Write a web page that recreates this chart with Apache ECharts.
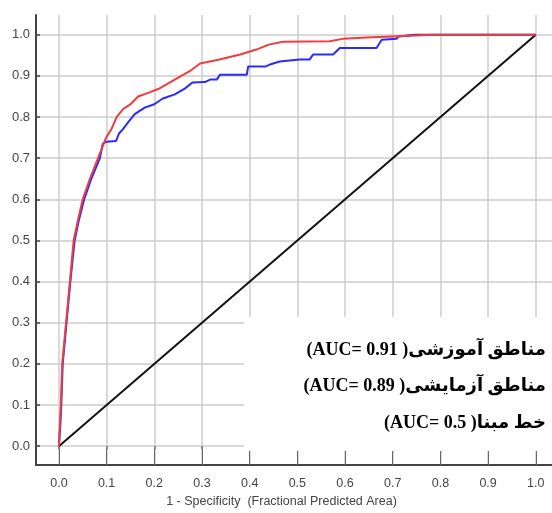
<!DOCTYPE html>
<html><head><meta charset="utf-8">
<script src="https://cdn.jsdelivr.net/npm/echarts@6/dist/echarts.min.js"></script>
<style>html,body{margin:0;padding:0;background:#fff}#c{width:552px;height:513px}</style>
</head><body><div id="c"></div>
<script>
const tickValues = [0,0.1,0.2,0.3,0.4,0.5,0.6,0.7,0.8,0.9,1.0];
const trainingRoc = [[0,0],[0.002,0.05],[0.004,0.1],[0.007,0.2],[0.011,0.25],[0.015,0.3],[0.023,0.4],[0.031,0.5],[0.04,0.55],[0.05,0.6],[0.065,0.65],[0.082,0.7],[0.099,0.75],[0.11,0.77],[0.121,0.8],[0.135,0.82],[0.149,0.83],[0.166,0.85],[0.19,0.86],[0.212,0.87],[0.233,0.884],[0.254,0.898],[0.275,0.912],[0.296,0.93],[0.337,0.94],[0.38,0.952],[0.414,0.964],[0.44,0.976],[0.47,0.983],[0.568,0.984],[0.595,0.99],[0.656,0.994],[0.70,0.996],[0.785,1.0],[1,1]];
const testRoc = [[0,0],[0.003,0.05],[0.005,0.1],[0.008,0.2],[0.012,0.25],[0.016,0.3],[0.024,0.4],[0.033,0.5],[0.042,0.55],[0.053,0.6],[0.068,0.65],[0.086,0.7],[0.092,0.735],[0.1,0.74],[0.12,0.742],[0.126,0.76],[0.134,0.77],[0.145,0.787],[0.159,0.807],[0.18,0.823],[0.2,0.831],[0.218,0.845],[0.243,0.855],[0.264,0.869],[0.28,0.884],[0.306,0.885],[0.317,0.891],[0.331,0.891],[0.338,0.903],[0.394,0.903],[0.397,0.923],[0.434,0.923],[0.441,0.927],[0.463,0.935],[0.505,0.94],[0.526,0.94],[0.533,0.952],[0.575,0.952],[0.582,0.96],[0.589,0.968],[0.666,0.968],[0.677,0.988],[0.708,0.99],[0.712,0.996],[0.746,1.0],[1,1]];
const baseline = [[0,0],[1,1]];
const legendLines = ['(AUC= 0.91 )مناطق آموزشی','(AUC= 0.89 )مناطق آزمایشی','(AUC= 0.5 )خط مبنا'];
const xName = '1 - Specificity  (Fractional Predicted Area)';

const chart = echarts.init(document.getElementById('c'));
const axisCommon = {type:'value', min:-0.048, max:1.034};
const legendGraphics = legendLines.map((t,i)=>({
  type:'text', right:6, top:341 + i*36.5, z:60,
  style:{text:t, fill:'#000', font:'bold 18px "Liberation Serif", "DejaVu Sans"'}
}));
chart.setOption({
  animation:false,
  grid:{left:36,right:0,top:15,bottom:45},
  xAxis:[{
    ...axisCommon, position:'bottom',
    name:xName, nameLocation:'middle', nameGap:29,
    nameTextStyle:{fontFamily:'Liberation Sans',fontSize:12.5,color:'#444',padding:[0,25,0,0]},
    axisLine:{onZero:false,lineStyle:{color:'#444',width:2}},
    axisTick:{show:true,inside:true,length:16,customValues:tickValues,lineStyle:{color:'#666',width:1}},
    axisLabel:{customValues:tickValues,margin:12,fontFamily:'Liberation Sans',fontSize:12.5,color:'#444',formatter:v=>v.toFixed(1)},
    splitLine:{show:true,lineStyle:{color:'#cccccc',width:1.5}}
  },{
    ...axisCommon, position:'top',
    axisLine:{show:false},
    axisTick:{show:true,inside:true,length:3,customValues:tickValues,lineStyle:{color:'#666',width:1.5}},
    axisLabel:{show:false},splitLine:{show:false}
  }],
  yAxis:{
    type:'value', min:-0.046, max:1.048,
    axisLine:{show:true,onZero:false,lineStyle:{color:'#444',width:2}},
    axisTick:{show:true,inside:true,length:4,customValues:tickValues,lineStyle:{color:'#444',width:1.5}},
    axisLabel:{customValues:tickValues,margin:6,fontFamily:'Liberation Sans',fontSize:13,color:'#444',formatter:v=>v.toFixed(1)},
    splitLine:{show:true,lineStyle:{color:'#cccccc',width:1.5}}
  },
  series:[
    {type:'line',data:baseline,symbol:'none',lineStyle:{color:'#111',width:2},z:3},
    {type:'line',data:testRoc,symbol:'none',lineStyle:{color:'#2a2aff',width:2},z:4},
    {type:'line',data:trainingRoc,symbol:'none',lineStyle:{color:'#f03c3c',width:2},z:5}
  ],
  graphic:[{
    type:'rect',left:244,top:317,shape:{width:308,height:134},style:{fill:'#fff'},z:50
  }].concat(legendGraphics)
});
</script></body></html>
